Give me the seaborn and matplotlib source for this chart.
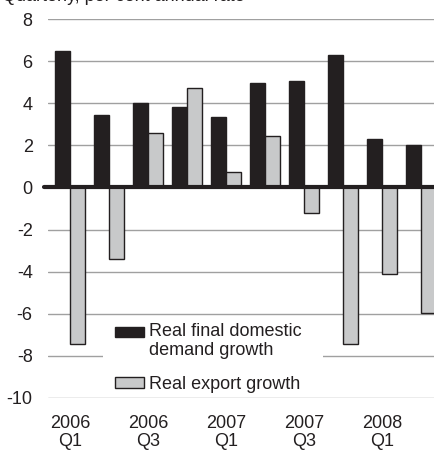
import matplotlib
matplotlib.use("Agg")
import matplotlib.pyplot as plt
import matplotlib.patches as mpatches
from matplotlib.legend_handler import HandlerPatch
import seaborn as sns
import pandas as pd

quarters = ["2006Q1", "2006Q2", "2006Q3", "2006Q4", "2007Q1",
            "2007Q2", "2007Q3", "2007Q4", "2008Q1", "2008Q2"]
tick_labels = ["2006\nQ1", "", "2006\nQ3", "", "2007\nQ1",
               "", "2007\nQ3", "", "2008\nQ1", ""]
domestic = [6.5, 3.45, 4.0, 3.8, 3.35, 4.95, 5.05, 6.3, 2.3, 2.0]
exports = [-7.45, -3.4, 2.6, 4.7, 0.75, 2.45, -1.2, -7.45, -4.1, -5.95]
series = ["Real final domestic\ndemand growth", "Real export growth"]

df = pd.DataFrame({
    "quarter": quarters * 2,
    "value": domestic + exports,
    "series": [series[0]] * len(quarters) + [series[1]] * len(quarters),
})

sns.set_theme(style="white")
plt.rcParams["font.family"] = ["Liberation Sans", "DejaVu Sans"]
FS = 13
INK = "#231f20"

fig = plt.figure(figsize=(4.35, 4.5), dpi=100)
ax = fig.add_axes([48 / 435, 52 / 450, 1 - 48 / 435, 379 / 450])

palette = {series[0]: INK, series[1]: "#c8c9ca"}
sns.barplot(data=df, x="quarter", y="value", hue="series", palette=palette,
            width=0.77, edgecolor=INK, linewidth=1.0, saturation=1,
            ax=ax, zorder=3)

ax.set_ylim(-10, 8)
ax.set_xlim(-0.56, 9.36)
ax.set_yticks(range(-10, 9, 2))
ax.set_yticklabels([str(v) for v in range(-10, 9, 2)], fontsize=FS, color=INK)
ax.set_xticks(range(len(quarters)))
ax.set_xticklabels(tick_labels, fontsize=FS, color=INK, linespacing=1.1)
ax.tick_params(axis="y", length=0, pad=11)
ax.tick_params(axis="x", length=0, pad=12)
ax.set_xlabel("")
ax.set_ylabel("")
ax.grid(axis="y", color="#a0a0a0", linewidth=1.0, zorder=0)
for s in ax.spines.values():
    s.set_visible(False)
ax.axhline(0, color=INK, linewidth=3, zorder=4, xmin=-0.01, clip_on=False)

# white area behind the legend that interrupts the gridlines
ax.add_patch(mpatches.Rectangle((103 / 435, 1 - 392 / 450), 220 / 435, 75 / 450,
                                transform=fig.transFigure, facecolor="white",
                                edgecolor="none", zorder=2))


def top_patch(legend, orig_handle, xdescent, ydescent, width, height, fontsize):
    return mpatches.Rectangle((-xdescent, -ydescent + 0.5 * fontsize), width, height)


handles, labels = ax.get_legend_handles_labels()
leg = ax.legend(handles, labels, loc="upper left",
                bbox_to_anchor=(110 / 435, 1 - 318 / 450),
                bbox_transform=fig.transFigure, frameon=False, fontsize=FS,
                handlelength=1.6, handleheight=0.5, handletextpad=0.25,
                labelspacing=0.95, borderpad=0.3, borderaxespad=0,
                handler_map={handles[0]: HandlerPatch(patch_func=top_patch)})
leg.set_zorder(5)
for t in leg.get_texts():
    t.set_color(INK)
    t.set_linespacing(1.1)

fig.text(0.005, 1 - 1 / 450, "Quarterly, per cent annual rate", fontsize=FS,
         color=INK, va="baseline", ha="left")

fig.savefig("out.png", dpi=100)
